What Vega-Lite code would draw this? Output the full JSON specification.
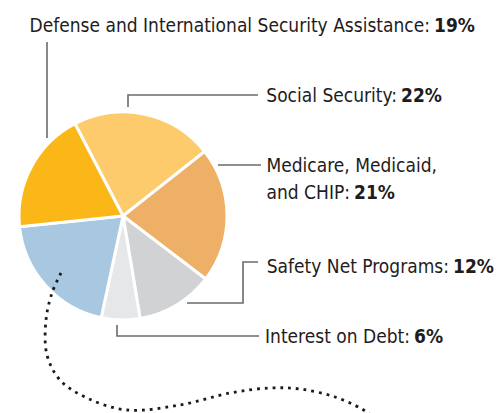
{
  "$schema": "https://vega.github.io/schema/vega-lite/v6.json",
  "width": 499,
  "height": 413,
  "padding": 0,
  "autosize": {"type": "none"},
  "background": "white",
  "config": {"view": {"stroke": null}},
  "datasets": {
    "slices": [
      {"category": "Social Security", "pct": 22, "o": 1},
      {"category": "Medicare, Medicaid, and CHIP", "pct": 21, "o": 2},
      {"category": "Safety Net Programs", "pct": 12, "o": 3},
      {"category": "Interest on Debt", "pct": 6, "o": 4},
      {"category": "Other", "pct": 20, "o": 5},
      {"category": "Defense and International Security Assistance", "pct": 19, "o": 6}
    ],
    "leaders": [
      {"id": "def", "i": 1, "x": 47, "y": 42},
      {"id": "def", "i": 2, "x": 47, "y": 138},
      {"id": "ss", "i": 1, "x": 128, "y": 107},
      {"id": "ss", "i": 2, "x": 128, "y": 95},
      {"id": "ss", "i": 3, "x": 258, "y": 95},
      {"id": "med", "i": 1, "x": 218, "y": 165},
      {"id": "med", "i": 2, "x": 261, "y": 165},
      {"id": "safe", "i": 1, "x": 187, "y": 303},
      {"id": "safe", "i": 2, "x": 243, "y": 303},
      {"id": "safe", "i": 3, "x": 243, "y": 262},
      {"id": "safe", "i": 4, "x": 258, "y": 262},
      {"id": "int", "i": 1, "x": 117, "y": 325},
      {"id": "int", "i": 2, "x": 117, "y": 336},
      {"id": "int", "i": 3, "x": 259, "y": 336}
    ],
    "dots": [
      {"i": 1, "x": 61, "y": 273},
      {"i": 2, "x": 52, "y": 293},
      {"i": 3, "x": 46, "y": 320},
      {"i": 4, "x": 47, "y": 355},
      {"i": 5, "x": 60, "y": 380},
      {"i": 6, "x": 87, "y": 398},
      {"i": 7, "x": 127, "y": 410},
      {"i": 8, "x": 180, "y": 405},
      {"i": 9, "x": 230, "y": 393},
      {"i": 10, "x": 270, "y": 388},
      {"i": 11, "x": 300, "y": 389},
      {"i": 12, "x": 335, "y": 397},
      {"i": 13, "x": 362, "y": 409},
      {"i": 14, "x": 372, "y": 416}
    ],
    "labels": [
      {"text": "Defense and International Security Assistance:", "bold": "19%", "x": 430, "y": 32},
      {"text": "Social Security:", "bold": "22%", "x": 397, "y": 102},
      {"text": "Medicare, Medicaid,", "bold": "", "x": 437, "y": 172},
      {"text": "and CHIP:", "bold": "21%", "x": 350, "y": 199},
      {"text": "Safety Net Programs:", "bold": "12%", "x": 449, "y": 273},
      {"text": "Interest on Debt:", "bold": "6%", "x": 410, "y": 343}
    ]
  },
  "layer": [
    {
      "data": {"name": "slices"},
      "mark": {"type": "arc", "radius": 104, "stroke": "white", "strokeWidth": 3},
      "encoding": {
        "x": {"datum": 123, "type": "quantitative", "scale": {"domain": [0, 499], "nice": false, "zero": false}, "axis": null},
        "y": {"datum": 216, "type": "quantitative", "scale": {"domain": [0, 413], "nice": false, "zero": false, "reverse": true}, "axis": null},
        "theta": {"field": "pct", "type": "quantitative", "stack": true, "scale": {"range": [-0.48, 5.8032]}},
        "order": {"field": "o", "type": "quantitative"},
        "color": {
          "field": "category",
          "type": "nominal",
          "legend": null,
          "scale": {
            "domain": ["Social Security", "Medicare, Medicaid, and CHIP", "Safety Net Programs", "Interest on Debt", "Other", "Defense and International Security Assistance"],
            "range": ["#FDCB6C", "#EEB066", "#D1D2D3", "#E6E7E8", "#A8C8E1", "#FBB717"]
          }
        }
      }
    },
    {
      "data": {"name": "leaders"},
      "mark": {"type": "line", "stroke": "#6b6b6b", "strokeWidth": 1.6, "interpolate": "linear"},
      "encoding": {
        "x": {"field": "x", "type": "quantitative"},
        "y": {"field": "y", "type": "quantitative"},
        "detail": {"field": "id"},
        "order": {"field": "i", "type": "quantitative"}
      }
    },
    {
      "data": {"name": "dots"},
      "mark": {"type": "line", "stroke": "#1a1a1a", "strokeWidth": 2.8, "strokeDash": [2.8, 5], "interpolate": "catmull-rom", "clip": true},
      "encoding": {
        "x": {"field": "x", "type": "quantitative"},
        "y": {"field": "y", "type": "quantitative"},
        "order": {"field": "i", "type": "quantitative"}
      }
    },
    {
      "data": {"name": "labels"},
      "mark": {"type": "text", "font": "DejaVu Sans Condensed, sans-serif", "fontSize": 19, "color": "#1f1c1d", "baseline": "alphabetic", "align": "right"},
      "encoding": {
        "x": {"field": "x", "type": "quantitative"},
        "y": {"field": "y", "type": "quantitative"},
        "text": {"field": "text"}
      }
    },
    {
      "data": {"name": "labels"},
      "mark": {"type": "text", "font": "DejaVu Sans Condensed, sans-serif", "fontSize": 19, "fontWeight": "bold", "color": "#1f1c1d", "baseline": "alphabetic", "align": "left", "dx": 4},
      "encoding": {
        "x": {"field": "x", "type": "quantitative"},
        "y": {"field": "y", "type": "quantitative"},
        "text": {"field": "bold"}
      }
    }
  ]
}
